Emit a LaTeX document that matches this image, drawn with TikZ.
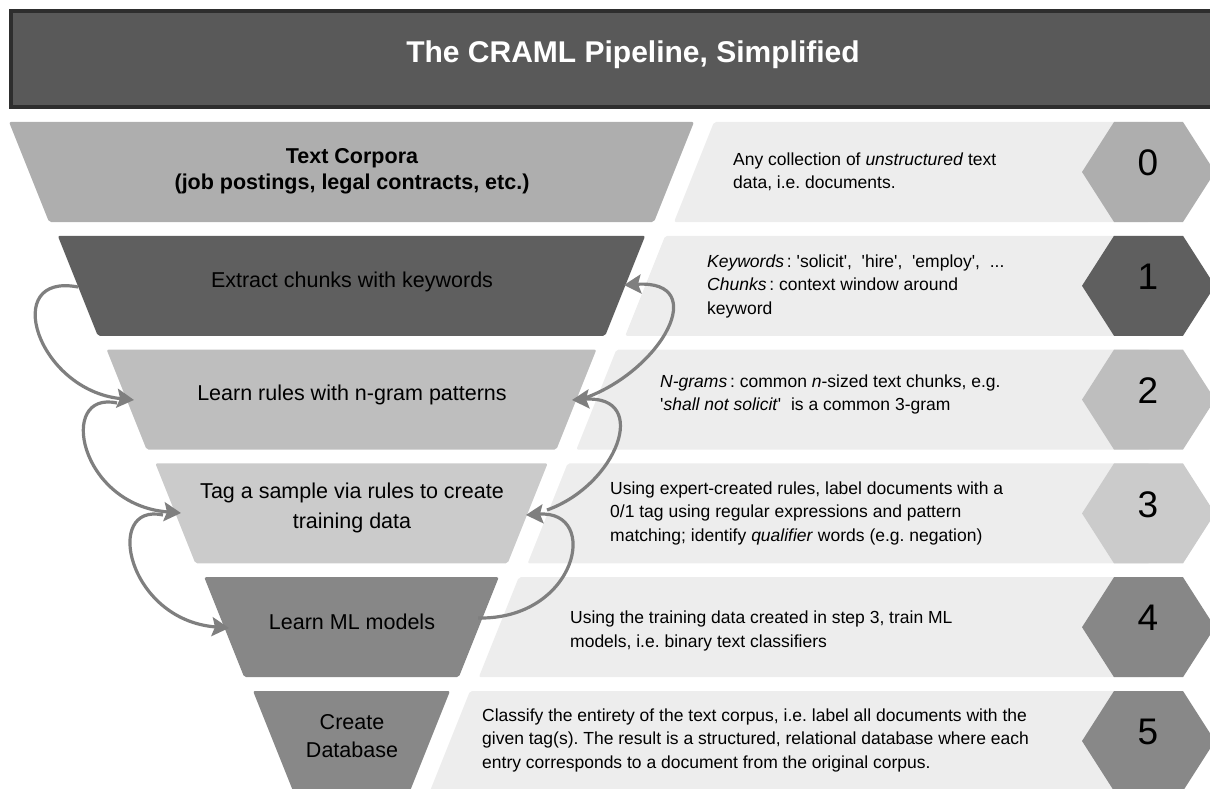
\documentclass[tikz,border=0pt]{standalone}
\usepackage{fontspec}
\setmainfont{Liberation Sans}
\usetikzlibrary{arrows.meta}

\definecolor{headfill}{HTML}{595959}
\definecolor{headedge}{HTML}{2E2E2E}
\definecolor{bandfill}{HTML}{EDEDED}
\definecolor{loopgrey}{HTML}{7F7F7F}
\definecolor{stepA}{HTML}{AEAEAE}
\definecolor{stepB}{HTML}{5F5F5F}
\definecolor{stepC}{HTML}{BEBEBE}
\definecolor{stepD}{HTML}{CBCBCB}
\definecolor{stepE}{HTML}{878787}
\definecolor{stepF}{HTML}{888888}

\newcommand{\sq}{\textquotesingle}
\frenchspacing

\begin{document}
\begin{tikzpicture}[x=1pt,y=-1pt,
    funnel/.style={font=\fontsize{21.5}{28}\selectfont, align=center},
    desc/.style={font=\fontsize{17.5}{23.5}\selectfont, align=left, anchor=west, inner sep=0pt},
    num/.style={font=\fontsize{37}{40}\selectfont},
    loop/.style={draw=loopgrey, line width=3.2pt, -{Stealth[length=17pt,width=19pt,inset=3pt]}}]

  \useasboundingbox (0,0) rectangle (1210,789);

  % Title bar
  \draw[headedge, fill=headfill, line width=4pt] (11,11) rectangle (1240,107);
  \node[text=white, font=\fontsize{30}{34}\selectfont\bfseries] (title) at (633,55) {The CRAML Pipeline, Simplified};

  % Funnel rows, text bands and step numbers
  \foreach \k/\c in {0/stepA,1/stepB,2/stepC,3/stepD,4/stepE,5/stepF} {
    \pgfmathsetmacro{\rowtop}{122+113.8*\k}
    \pgfmathsetmacro{\rowleft}{9+48.8*\k}
    \pgfmathsetmacro{\rowright}{694-48.8*\k}
    \fill[\c, rounded corners=2pt] (\rowleft,\rowtop) -- (\rowright,\rowtop) -- (\rowright-40,\rowtop+100) -- (\rowleft+40,\rowtop+100) -- cycle;
    \fill[bandfill, rounded corners=2pt] (\rowright+20,\rowtop) -- (1150,\rowtop) -- (1150,\rowtop+100) -- (\rowright-20,\rowtop+100) -- cycle;
    \fill[\c] (1082,\rowtop+50) -- (1114,\rowtop) -- (1183,\rowtop) -- (1215,\rowtop+50) -- (1183,\rowtop+100) -- (1114,\rowtop+100) -- cycle;
    \node[num] (step\k) at (1148,\rowtop+41) {\k};
  }

  % Funnel labels
  \node[funnel, font=\fontsize{21.5}{26}\selectfont\bfseries] (corpora) at (352,171) {Text Corpora\\(job postings, legal contracts, etc.)};
  \node[funnel] (extract) at (352,282) {Extract chunks with keywords};
  \node[funnel] (ngram) at (352,395) {Learn rules with n-gram patterns};
  \node[funnel, font=\fontsize{21.5}{30}\selectfont] (tag) at (352,508) {Tag a sample via rules to create\\training data};
  \node[funnel] (models) at (352,622) {Learn ML models};
  \node[funnel] (database) at (352,736) {Create\\Database};

  % Descriptions
  \node[desc] (about0) at (733,172) {Any collection of \textit{unstructured} text\\data, i.e. documents.};
  \node[desc] (about1) at (707,286) {\textit{Keywords}\,: \sq solicit\sq,\ \ \sq hire\sq,\ \ \sq employ\sq,\ \ ...\\\textit{Chunks}\,: context window around\\keyword};
  \node[desc] (about2) at (660,394.5) {\textit{N-grams}\,: common \textit{n}-sized text chunks, e.g.\\\sq\textit{shall not solicit}\sq\ \ is a common 3-gram};
  \node[desc] (about3) at (610,513) {Using expert-created rules, label documents with a\\0/1 tag using regular expressions and pattern\\matching; identify \textit{qualifier} words (e.g. negation)};
  \node[desc] (about4) at (570,631) {Using the training data created in step 3, train ML\\models, i.e. binary text classifiers};
  \node[desc] (about5) at (482,740) {Classify the entirety of the text corpus, i.e. label all documents with the\\given tag(s). The result is a structured, relational database where each\\entry corresponds to a document from the original corpus.};

  % Loop ends
  \coordinate (down1) at (78,287);
  \coordinate (down2) at (117,403);
  \coordinate (down3) at (163,515);
  \coordinate (downend1) at (134,400);
  \coordinate (downend2) at (181,513);
  \coordinate (downend3) at (229,628);
  \coordinate (up1) at (478,618);
  \coordinate (up2) at (547,510);
  \coordinate (up3) at (585,398);
  \coordinate (upend1) at (526,515);
  \coordinate (upend2) at (572,400);
  \coordinate (upend3) at (624,285);

  \draw[loop] (down1) .. controls +(-78,-15) and +(-97,-10) .. (downend1);
  \draw[loop] (down2) .. controls +(-60,-13) and +(-102,-8) .. (downend2);
  \draw[loop] (down3) .. controls +(-60,-13) and +(-102,-8) .. (downend3);
  \draw[loop] (up1) .. controls +(99,2) and +(75,-5) .. (upend1);
  \draw[loop] (up2) .. controls +(70,-25) and +(79,-5) .. (upend2);
  \draw[loop] (up3) .. controls +(77,-28) and +(87,-5) .. (upend3);
\end{tikzpicture}
\end{document}
